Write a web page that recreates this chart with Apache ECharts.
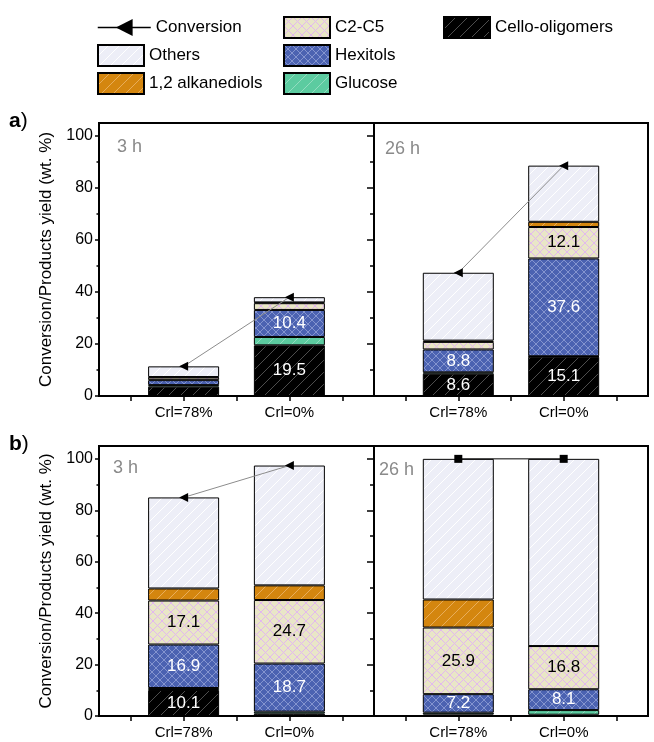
<!DOCTYPE html>
<html>
<head>
<meta charset="utf-8">
<script src="https://cdn.jsdelivr.net/npm/echarts@6/dist/echarts.min.js"></script>
<style>
  html, body { margin: 0; padding: 0; background: #fff; }
  #chart { width: 654px; height: 742px; }
</style>
</head>
<body>
<div id="chart"></div>
<script>
// Conversion and product yields (wt. %) for two feeds at 3 h and 26 h, runs a) and b)
const categories = ['Crl=78%', 'Crl=0%'];
const panelTitles = ['3 h', '26 h', '3 h', '26 h'];
const yTickLabels = [0, 20, 40, 60, 80, 100];
const yMinorTicks = [10, 30, 50, 70, 90];

// One pair per panel: [Crl=78%, Crl=0%]; panels: a) 3 h, a) 26 h, b) 3 h, b) 26 h
const celloOligomers = [[3.6, 19.5], [8.6, 15.1], [10.1, 0.9], [0.6, 0.5]];
const glucose        = [[0.6, 3.2],  [0.5, 0.2],  [0.8, 0.8],  [0.7, 1.8]];
const hexitols       = [[1.9, 10.4], [8.8, 37.6], [16.9, 18.7], [7.2, 8.1]];
const c2c5           = [[1.0, 2.6],  [2.9, 12.1], [17.1, 24.7], [25.9, 16.8]];
const alkanediols    = [[0.2, 0.3],  [0.5, 2.0],  [4.7, 5.7],  [10.9, 0.0]];
const others         = [[4.1, 2.0],  [26.1, 21.6], [35.4, 46.6], [54.7, 72.8]];
const conversion     = [[11.4, 38.0], [47.4, 88.6], [85.0, 97.4], [100, 100]];

const FONT = 'Liberation Sans, Arial, Helvetica, sans-serif';
const X_MIN = 0.2, X_MAX = 2.8;   // outer axis range; bars sit at 1 and 2

// Hatched fills drawn on small repeating canvas tiles
function hatch(bg, fg, size, cross, lw) {
  const c = document.createElement('canvas');
  c.width = c.height = size;
  const g = c.getContext('2d');
  g.fillStyle = bg;
  g.fillRect(0, 0, size, size);
  g.strokeStyle = fg;
  g.lineWidth = lw;
  const seg = (x0, y0, x1, y1) => { g.beginPath(); g.moveTo(x0, y0); g.lineTo(x1, y1); g.stroke(); };
  for (const o of [-size, 0, size]) {
    seg(o, size, o + size, 0);
    if (cross) seg(o, 0, o + size, size);
  }
  return { image: c, repeat: 'repeat' };
}

const layers = [
  { name: 'Cello-oligomers', data: celloOligomers, fill: hatch('#000000', '#4d4d4d', 12, false, 1), labelColor: '#fff' },
  { name: 'Glucose',         data: glucose,        fill: hatch('#5ccba0', '#93dcc0', 12, false, 1) },
  { name: 'Hexitols',        data: hexitols,       fill: hatch('#4b62b1', '#8494cf', 8, true, 1), labelColor: '#fff' },
  { name: 'C2-C5',           data: c2c5,           fill: hatch('#e9e6c7', '#e2b8ee', 9, true, 1), labelColor: '#000' },
  { name: '1,2 alkanediols', data: alkanediols,    fill: hatch('#d4860f', '#e8ad5a', 12, false, 1) },
  { name: 'Others',          data: others,         fill: hatch('#edeef7', '#ffffff', 11, false, 1) }
];

// Framed panels (value x axis carries ticks and category labels)
const frames = [
  { left: 99,  top: 123, width: 275, height: 273 },
  { left: 374, top: 123, width: 274, height: 273 },
  { left: 99,  top: 446, width: 275, height: 270 },
  { left: 374, top: 446, width: 274, height: 270 }
];
// Inner grids holding the stacked bars: span x = 0.5 .. 2.5 of each frame
const inner = frames.map(f => {
  const unit = f.width / (X_MAX - X_MIN);
  return { left: f.left + (0.5 - X_MIN) * unit, top: f.top, width: 2 * unit, height: f.height };
});

const grids = frames.map(f => Object.assign({}, f, { show: true, borderColor: '#000', borderWidth: 2, backgroundColor: 'transparent', z: 3 }))
  .concat(inner.map(g => Object.assign({}, g, { show: false })));

const xAxes = frames.map((f, p) => ({
  type: 'value', gridIndex: p, min: X_MIN, max: X_MAX, position: 'bottom', z: 4,
  axisLine: { show: true, lineStyle: { color: '#000', width: 2 } },
  axisTick: { show: true, customValues: [0.5, 1, 1.5, 2, 2.5], length: 5, lineStyle: { color: '#000', width: 1.5 } },
  axisLabel: {
    customValues: [1, 2], formatter: v => categories[Math.round(v) - 1] || '',
    fontSize: 15, color: '#000', margin: 9, fontFamily: FONT
  },
  splitLine: { show: false }
})).concat(inner.map((g, p) => ({
  type: 'category', gridIndex: 4 + p, data: categories, boundaryGap: true,
  axisLine: { show: false }, axisTick: { show: false }, axisLabel: { show: false }, splitLine: { show: false }
})));

const yAxes = [];
frames.forEach((f, p) => {
  const leftPanel = p % 2 === 0;
  yAxes.push({
    type: 'value', gridIndex: p, min: 0, max: 105, interval: 20, position: 'left', z: 4,
    name: leftPanel ? 'Conversion/Products yield (wt. %)' : '',
    nameLocation: 'middle', nameGap: 44,
    nameTextStyle: { fontSize: 17, color: '#000', fontFamily: FONT },
    axisLine: { show: true, lineStyle: { color: '#000', width: 2 } },
    axisTick: { show: true, customValues: yTickLabels, length: leftPanel ? 4 : 7, lineStyle: { color: '#000', width: 1.5 } },
    axisLabel: { show: leftPanel, customValues: yTickLabels, fontSize: 16, color: '#000', margin: 6, fontFamily: FONT },
    splitLine: { show: false }
  });
  yAxes.push({
    type: 'value', gridIndex: p, min: 0, max: 105, position: 'left', z: 4,
    axisLine: { show: false },
    axisTick: { show: true, customValues: yMinorTicks, length: leftPanel ? 2.5 : 4, lineStyle: { color: '#000', width: 1.5 } },
    axisLabel: { show: false },
    splitLine: { show: false }
  });
});
inner.forEach((g, p) => {
  yAxes.push({
    type: 'value', gridIndex: 4 + p, min: 0, max: 105, show: false
  });
});

const series = [];
// Conversion first so the legend picks up the arrow marker
conversion.forEach((pair, p) => {
  const last = p === 3;
  series.push({
    name: 'Conversion', type: 'line', xAxisIndex: p, yAxisIndex: 2 * p, z: 6,
    data: pair.map((v, i) => [i + 1, v]),
    symbol: last ? 'rect' : 'triangle',
    symbolRotate: last ? 0 : 90,
    symbolSize: last ? 8 : [9, 9],
    lineStyle: { color: last ? '#000' : '#8c8c8c', width: 1 },
    itemStyle: { color: '#000' }
  });
});

inner.forEach((g, p) => {
  layers.forEach(layer => {
    series.push({
      name: layer.name, type: 'bar', stack: 'panel' + p,
      xAxisIndex: 4 + p, yAxisIndex: 8 + p, barWidth: 71,
      itemStyle: { color: layer.fill, borderColor: '#000', borderWidth: 1 },
      label: {
        position: 'inside', fontSize: 17, fontFamily: FONT,
        color: layer.labelColor || '#000',
        formatter: prm => Number(prm.value).toFixed(1)
      },
      data: layer.data[p].map(v => ({
        value: v,
        label: { show: !!layer.labelColor && v >= 5 }
      }))
    });
  });
});

const legendBase = {
  orient: 'vertical', itemWidth: 46, itemHeight: 21, itemGap: 5, padding: 0, icon: 'rect',
  textStyle: { fontSize: 17, lineHeight: 21, color: '#000', fontFamily: FONT }, selectedMode: false
};

const option = {
  animation: false,
  textStyle: { fontFamily: FONT },
  grid: grids,
  xAxis: xAxes,
  yAxis: yAxes,
  legend: [
    Object.assign({}, legendBase, {
      left: 97, top: 17, itemWidth: 53, icon: null, data: ['Conversion'],
      lineStyle: { color: '#000', width: 1.5 }, itemStyle: { color: '#000' }
    }),
    Object.assign({}, legendBase, { left: 97, top: 44, data: ['Others', '1,2 alkanediols'] }),
    Object.assign({}, legendBase, { left: 283, top: 16, data: ['C2-C5', 'Hexitols', 'Glucose'] }),
    Object.assign({}, legendBase, { left: 443, top: 16, data: ['Cello-oligomers'] })
  ],
  graphic: [
    { type: 'text', left: 117, top: 138, style: { text: panelTitles[0], fontSize: 18, fill: '#8a8a8a', fontFamily: FONT } },
    { type: 'text', left: 385, top: 140, style: { text: panelTitles[1], fontSize: 18, fill: '#8a8a8a', fontFamily: FONT } },
    { type: 'text', left: 113, top: 459, style: { text: panelTitles[2], fontSize: 18, fill: '#8a8a8a', fontFamily: FONT } },
    { type: 'text', left: 379, top: 461, style: { text: panelTitles[3], fontSize: 18, fill: '#8a8a8a', fontFamily: FONT } },
    { type: 'text', left: 9, top: 111, style: { text: '{b|a})', fontSize: 21, fill: '#000', fontFamily: FONT, rich: { b: { fontWeight: 'bold', fontSize: 21, fontFamily: FONT } } } },
    { type: 'text', left: 9, top: 434, style: { text: '{b|b})', fontSize: 21, fill: '#000', fontFamily: FONT, rich: { b: { fontWeight: 'bold', fontSize: 21, fontFamily: FONT } } } }
  ],
  series: series
};

const chart = echarts.init(document.getElementById('chart'), null, { renderer: 'canvas' });
chart.setOption(option);
</script>
</body>
</html>
